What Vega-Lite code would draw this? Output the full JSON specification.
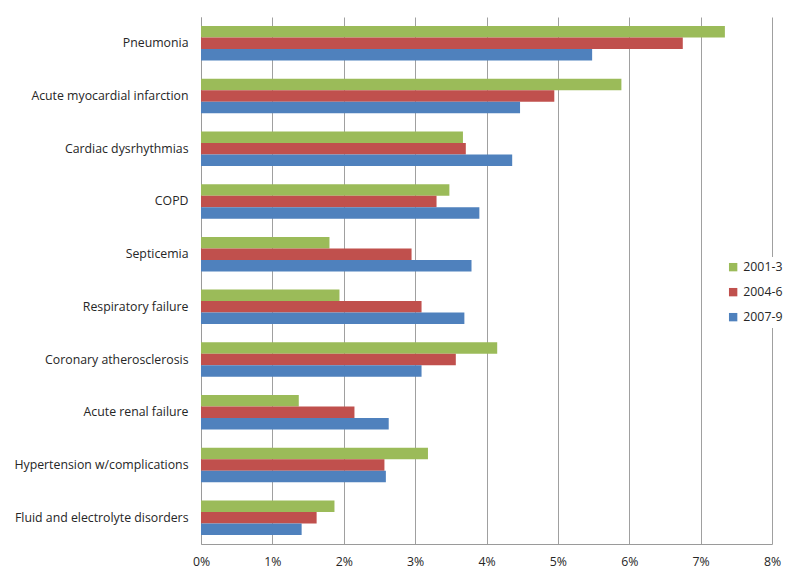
{
  "$schema": "https://vega.github.io/schema/vega-lite/v6.json",
  "autosize": {"type": "none"},
  "width": 571,
  "height": 527,
  "padding": {"left": 201, "top": 17, "right": 28, "bottom": 40},
  "background": "white",
  "config": {
    "view": {"stroke": null},
    "font": "Open Sans",
    "axis": {"labelFont": "Open Sans", "labelColor": "#262626", "labelFontSize": 12.3}
  },
  "data": {
    "values": [
      {"condition": "Pneumonia", "period": "2001-3", "rate": 0.0734},
      {"condition": "Pneumonia", "period": "2004-6", "rate": 0.0675},
      {"condition": "Pneumonia", "period": "2007-9", "rate": 0.0548},
      {"condition": "Acute myocardial infarction", "period": "2001-3", "rate": 0.0589},
      {"condition": "Acute myocardial infarction", "period": "2004-6", "rate": 0.0495},
      {"condition": "Acute myocardial infarction", "period": "2007-9", "rate": 0.0447},
      {"condition": "Cardiac dysrhythmias", "period": "2001-3", "rate": 0.0367},
      {"condition": "Cardiac dysrhythmias", "period": "2004-6", "rate": 0.0371},
      {"condition": "Cardiac dysrhythmias", "period": "2007-9", "rate": 0.0436},
      {"condition": "COPD", "period": "2001-3", "rate": 0.0348},
      {"condition": "COPD", "period": "2004-6", "rate": 0.0330},
      {"condition": "COPD", "period": "2007-9", "rate": 0.0390},
      {"condition": "Septicemia", "period": "2001-3", "rate": 0.0180},
      {"condition": "Septicemia", "period": "2004-6", "rate": 0.0295},
      {"condition": "Septicemia", "period": "2007-9", "rate": 0.0379},
      {"condition": "Respiratory failure", "period": "2001-3", "rate": 0.0194},
      {"condition": "Respiratory failure", "period": "2004-6", "rate": 0.0309},
      {"condition": "Respiratory failure", "period": "2007-9", "rate": 0.0369},
      {"condition": "Coronary atherosclerosis", "period": "2001-3", "rate": 0.0415},
      {"condition": "Coronary atherosclerosis", "period": "2004-6", "rate": 0.0357},
      {"condition": "Coronary atherosclerosis", "period": "2007-9", "rate": 0.0309},
      {"condition": "Acute renal failure", "period": "2001-3", "rate": 0.0137},
      {"condition": "Acute renal failure", "period": "2004-6", "rate": 0.0215},
      {"condition": "Acute renal failure", "period": "2007-9", "rate": 0.0263},
      {"condition": "Hypertension w/complications", "period": "2001-3", "rate": 0.0318},
      {"condition": "Hypertension w/complications", "period": "2004-6", "rate": 0.0257},
      {"condition": "Hypertension w/complications", "period": "2007-9", "rate": 0.0259},
      {"condition": "Fluid and electrolyte disorders", "period": "2001-3", "rate": 0.0187},
      {"condition": "Fluid and electrolyte disorders", "period": "2004-6", "rate": 0.0162},
      {"condition": "Fluid and electrolyte disorders", "period": "2007-9", "rate": 0.0141}
    ]
  },
  "mark": {"type": "bar"},
  "encoding": {
    "y": {
      "field": "condition",
      "type": "nominal",
      "sort": null,
      "scale": {"paddingInner": 0.345, "paddingOuter": 0.1725},
      "axis": {
        "title": null,
        "ticks": false,
        "domainColor": "#9a9a9a",
        "labelPadding": 13,
        "labelLimit": 200
      }
    },
    "yOffset": {
      "field": "period",
      "type": "nominal",
      "sort": ["2001-3", "2004-6", "2007-9"]
    },
    "x": {
      "field": "rate",
      "type": "quantitative",
      "scale": {"domain": [0, 0.08], "nice": false},
      "axis": {
        "title": null,
        "format": ".0%",
        "values": [0, 0.01, 0.02, 0.03, 0.04, 0.05, 0.06, 0.07, 0.08],
        "grid": true,
        "gridColor": "#a0a0a0",
        "gridWidth": 1,
        "ticks": false,
        "labelFlush": false,
        "domainColor": "#9a9a9a",
        "labelPadding": 11
      }
    },
    "color": {
      "field": "period",
      "type": "nominal",
      "scale": {"domain": ["2001-3", "2004-6", "2007-9"], "range": ["#9BBB59", "#C0504D", "#4F81BD"]},
      "legend": {
        "title": null,
        "orient": "none",
        "legendX": 522,
        "legendY": 240,
        "symbolType": "square",
        "symbolSize": 70,
        "symbolStrokeWidth": 0,
        "labelFontSize": 12.3,
        "labelColor": "#262626",
        "labelOffset": 4,
        "rowPadding": 12,
        "fillColor": "white",
        "padding": 4
      }
    }
  }
}
